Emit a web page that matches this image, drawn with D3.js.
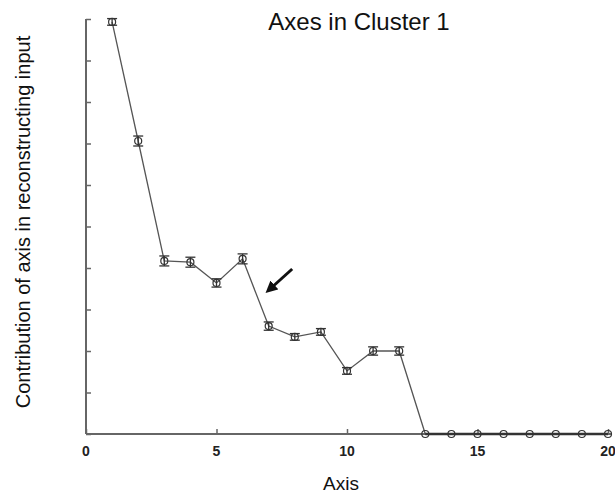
<!DOCTYPE html>
<html>
<head>
<meta charset="utf-8">
<script src="https://d3js.org/d3.v7.min.js"></script>
<style>
  body { margin: 0; background: #fff; }
  text { font-family: "Liberation Sans", Arial, sans-serif; }
</style>
</head>
<body>
<script>
// values
var axisIds = [1, 2, 3, 4, 5, 6, 7, 8, 9, 10, 11, 12, 13, 14, 15, 16, 17, 18, 19, 20];
var contribution = [9.93, 7.06, 4.17, 4.14, 3.64, 4.22, 2.6, 2.34, 2.46, 1.52, 2.0, 2.0, 0, 0, 0, 0, 0, 0, 0, 0];
var errors = [0.08, 0.12, 0.12, 0.12, 0.1, 0.12, 0.1, 0.08, 0.08, 0.08, 0.1, 0.1, 0, 0, 0, 0, 0, 0, 0, 0];
var xTicks = [0, 5, 10, 15, 20];
var yTicks = [0, 1, 2, 3, 4, 5, 6, 7, 8, 9, 10];

var width = 615, height = 495;
var svg = d3.select("body").append("svg")
    .attr("width", width)
    .attr("height", height);

var x = d3.scaleLinear().domain([0, 20]).range([86, 608]);
var y = d3.scaleLinear().domain([0, 10]).range([434, 19]);

// x axis, ticks pointing inward
var xAxis = svg.append("g")
    .attr("transform", "translate(0," + y(0) + ")")
    .call(d3.axisTop(x).tickValues(xTicks).tickSize(5).tickFormat(""));
xAxis.select(".domain").attr("d", "M" + x(0) + ",0H612");
xAxis.selectAll("line").attr("stroke", "#666").attr("stroke-width", 1.5);
xAxis.select(".domain").attr("stroke", "#666").attr("stroke-width", 2);

svg.append("g").selectAll("text")
    .data(xTicks)
    .enter().append("text")
    .attr("x", d => x(d))
    .attr("y", 456)
    .attr("text-anchor", "middle")
    .attr("font-size", 14)
    .attr("font-weight", "bold")
    .attr("fill", "#222")
    .text(d => d);

// y axis, no labels
var yAxis = svg.append("g")
    .attr("transform", "translate(" + x(0) + ",0)")
    .call(d3.axisRight(y).tickValues(yTicks).tickSize(5).tickFormat(""));
yAxis.select(".domain").attr("d", "M0," + y(10) + "V" + y(0));
yAxis.select(".domain").attr("stroke", "#666").attr("stroke-width", 2);
yAxis.selectAll("line").attr("stroke", "#666").attr("stroke-width", 1.5);

var data = axisIds.map((a, i) => ({ a: a, v: contribution[i], e: errors[i] }));

// connecting line
svg.append("path")
    .datum(data)
    .attr("fill", "none")
    .attr("stroke", "#555")
    .attr("stroke-width", 1.3)
    .attr("d", d3.line().x(d => x(d.a)).y(d => y(d.v)));

// flat segment drawn heavier on top of axis
svg.append("path")
    .datum(data.filter(d => d.a >= 13))
    .attr("fill", "none")
    .attr("stroke", "#333")
    .attr("stroke-width", 2.5)
    .attr("d", d3.line().x(d => x(d.a)).y(d => y(d.v)));

// error bars
var eb = svg.append("g").selectAll("g")
    .data(data.filter(d => d.e > 0))
    .enter().append("g")
    .attr("stroke", "#333")
    .attr("stroke-width", 1.3);
eb.append("line")
    .attr("x1", d => x(d.a)).attr("x2", d => x(d.a))
    .attr("y1", d => y(d.v - d.e)).attr("y2", d => y(d.v + d.e));
eb.append("line")
    .attr("x1", d => x(d.a) - 5).attr("x2", d => x(d.a) + 5)
    .attr("y1", d => y(d.v - d.e)).attr("y2", d => y(d.v - d.e));
eb.append("line")
    .attr("x1", d => x(d.a) - 5).attr("x2", d => x(d.a) + 5)
    .attr("y1", d => y(d.v + d.e)).attr("y2", d => y(d.v + d.e));

// open circles
svg.append("g").selectAll("circle")
    .data(data)
    .enter().append("circle")
    .attr("cx", d => x(d.a))
    .attr("cy", d => y(d.v))
    .attr("r", 3.5)
    .attr("fill", "none")
    .attr("stroke", "#333")
    .attr("stroke-width", 1.2);

// arrow pointing at axis 7
svg.append("defs").append("marker")
    .attr("id", "head")
    .attr("viewBox", "0 0 10 10")
    .attr("refX", 5).attr("refY", 5)
    .attr("markerWidth", 4).attr("markerHeight", 4)
    .attr("orient", "auto")
    .append("path")
    .attr("d", "M0,0L10,5L0,10Z")
    .attr("fill", "#111");
svg.append("line")
    .attr("x1", x(7.9)).attr("y1", 269)
    .attr("x2", x(7.05)).attr("y2", 289)
    .attr("stroke", "#111")
    .attr("stroke-width", 3)
    .attr("marker-end", "url(#head)");

// title and labels
svg.append("text")
    .attr("x", 359).attr("y", 30)
    .attr("text-anchor", "middle")
    .attr("font-size", 24)
    .attr("fill", "#111")
    .text("Axes in Cluster 1");

svg.append("text")
    .attr("x", 341).attr("y", 490)
    .attr("text-anchor", "middle")
    .attr("font-size", 19)
    .attr("fill", "#111")
    .text("Axis");

svg.append("text")
    .attr("transform", "translate(30,222) rotate(-90)")
    .attr("text-anchor", "middle")
    .attr("font-size", 20)
    .attr("fill", "#111")
    .text("Contribution of axis in reconstructing input");
</script>
</body>
</html>
